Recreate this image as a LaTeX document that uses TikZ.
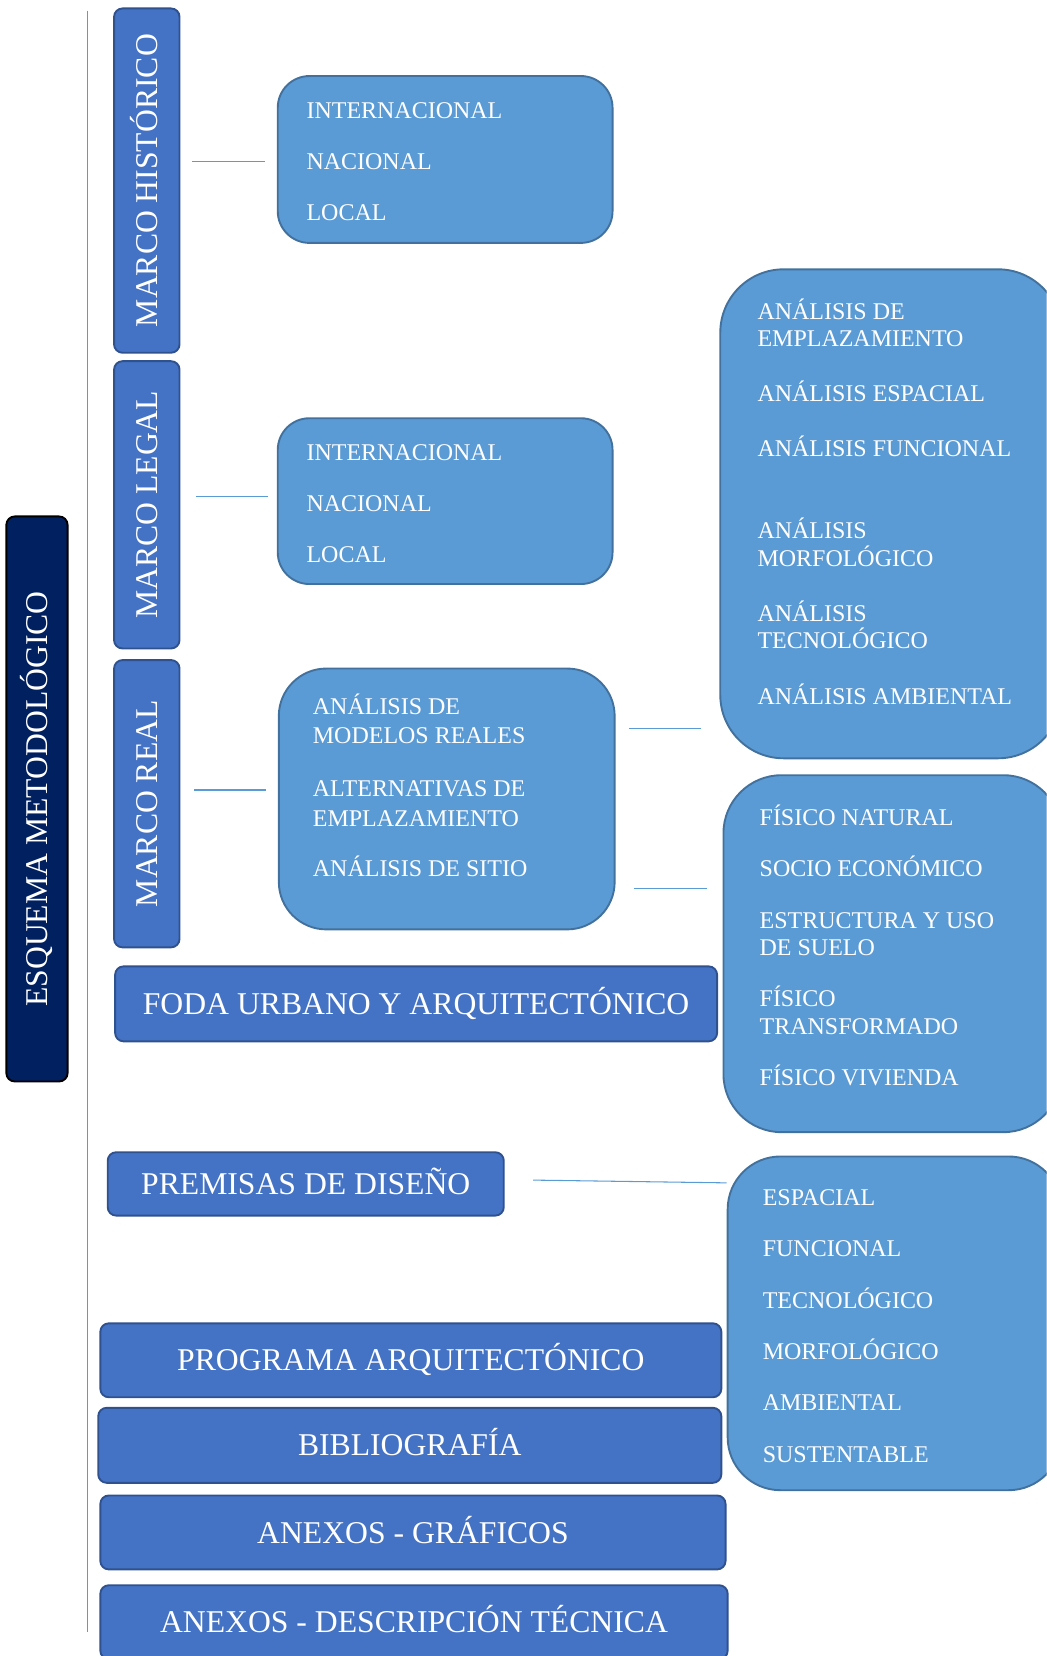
\documentclass[tikz,border=0pt]{standalone}
\usepackage{fontspec}
\setmainfont{Liberation Serif}
\usetikzlibrary{positioning}

\definecolor{navyfill}{HTML}{002060}
\definecolor{midblue}{HTML}{4472C4}
\definecolor{midedge}{HTML}{2F528F}
\definecolor{lightblue}{HTML}{5B9BD5}
\definecolor{lightedge}{HTML}{41719C}

\begin{document}
\begin{tikzpicture}[x=1pt, y=-1pt,
sidebar/.style={rectangle, rounded corners=8pt, draw=midedge, fill=midblue, line width=1.8pt, rotate=90, text=white, inner sep=0pt, text height=20pt, text depth=0pt, font=\fontsize{30}{36}\selectfont},
titlebar/.style={sidebar, draw=black, fill=navyfill},
barnode/.style={rectangle, rounded corners=8pt, draw=midedge, fill=midblue, line width=1.8pt, text=white, inner sep=0pt, text height=20pt, text depth=0pt, font=\fontsize{30}{36}\selectfont},
listbox/.style={rectangle, draw=lightedge, fill=lightblue, line width=1.8pt},
listtext/.style={align=left, text=white, inner sep=0pt, font=\fontsize{22.7}{26}\selectfont},
link/.style={draw=lightblue, line width=1pt},
]
\useasboundingbox (0,0) rectangle (991,1568);
\clip (0,0) rectangle (991,1568);

%Nodes
\node[titlebar, minimum width=535pt, minimum height=58pt] (esquema) at (35,756.5) {ESQUEMA METODOLÓGICO};
\node[sidebar, minimum width=326pt, minimum height=62pt] (hist)  at (139,171) {MARCO HISTÓRICO};
\node[sidebar, minimum width=272pt, minimum height=62pt] (legal) at (139,478) {MARCO LEGAL};
\node[sidebar, minimum width=272pt, minimum height=62pt] (real)  at (139,761) {MARCO REAL};

\node[listbox, rounded corners=30pt, minimum width=317pt, minimum height=158pt] (histlist)  at (421.5,151) {};
\node[listbox, rounded corners=30pt, minimum width=317pt, minimum height=157pt] (legallist) at (421.5,474.5) {};
\node[listbox, rounded corners=45pt, minimum width=318pt, minimum height=247pt] (reallist)  at (423,756.5) {};
\node[listbox, rounded corners=60pt, minimum width=323pt, minimum height=463pt] (analist)   at (843.5,486.5) {};
\node[listbox, rounded corners=55pt, minimum width=320pt, minimum height=338pt] (fislist)   at (845,903) {};
\node[listbox, rounded corners=50pt, minimum width=316pt, minimum height=316pt] (dislist)   at (847,1253) {};

\node[listtext, right=28pt of histlist.west, yshift=-2pt] (histtxt) {INTERNACIONAL\\[22pt]NACIONAL\\[22pt]LOCAL};
\node[listtext, right=28pt of legallist.west, yshift=-2.5pt] (legaltxt) {INTERNACIONAL\\[22pt]NACIONAL\\[22pt]LOCAL};
\node[listtext, right=33pt of reallist.west, yshift=13pt, font=\fontsize{22.7}{28}\selectfont] (realtxt) {ANÁLISIS DE\\MODELOS REALES\\[22pt]ALTERNATIVAS DE\\EMPLAZAMIENTO\\[20pt]ANÁLISIS DE SITIO};
\node[listtext, right=36pt of analist.west, yshift=11.5pt] (anatxt) {ANÁLISIS DE\\EMPLAZAMIENTO\\[26pt]ANÁLISIS ESPACIAL\\[26pt]ANÁLISIS FUNCIONAL\\[52pt]ANÁLISIS\\MORFOLÓGICO\\[26pt]ANÁLISIS\\TECNOLÓGICO\\[27pt]ANÁLISIS AMBIENTAL};
\node[listtext, right=35pt of fislist.west, yshift=7.5pt] (fistxt) {FÍSICO NATURAL\\[22pt]SOCIO ECONÓMICO\\[23pt]ESTRUCTURA Y USO\\DE SUELO\\[22pt]FÍSICO\\TRANSFORMADO\\[23pt]FÍSICO VIVIENDA};
\node[listtext, right=34pt of dislist.west, yshift=-2.5pt] (distxt) {ESPACIAL\\[22.6pt]FUNCIONAL\\[22.6pt]TECNOLÓGICO\\[22.6pt]MORFOLÓGICO\\[22.6pt]AMBIENTAL\\[22.6pt]SUSTENTABLE};

\node[barnode, minimum width=570pt, minimum height=71pt] (foda)   at (394,950.5) {FODA URBANO Y ARQUITECTÓNICO};
\node[barnode, minimum width=375pt, minimum height=60pt] (prem)   at (289.5,1121) {PREMISAS DE DISEÑO};
\node[barnode, minimum width=588pt, minimum height=70pt] (prog)   at (389,1288) {PROGRAMA ARQUITECTÓNICO};
\node[barnode, minimum width=590pt, minimum height=71pt] (biblio) at (388,1368.5) {BIBLIOGRAFÍA};
\node[barnode, minimum width=592pt, minimum height=70pt] (anexg)  at (391,1451) {ANEXOS - GRÁFICOS};
\node[barnode, minimum width=594pt, minimum height=70pt] (anexd)  at (392,1536) {ANEXOS - DESCRIPCIÓN TÉCNICA};

%Lines
\draw[link] (83,10) -- (83,1545);
\draw[link, shorten <=11pt, shorten >=11pt] ([yshift=18pt]hist.south) -- ([yshift=-2pt]histlist.west);
\draw[link, shorten <=15pt, shorten >=8pt] ([yshift=8pt]legal.south) -- ([yshift=4.5pt]legallist.west);
\draw[link, shorten <=13pt, shorten >=11pt] ([yshift=13pt]real.south) -- ([yshift=8.5pt]reallist.west);
\draw[link, shorten <=13pt, shorten >=17pt] ([yshift=66.5pt]reallist.east) -- ([yshift=-203.5pt]analist.west);
\draw[link, shorten <=17pt, shorten >=15pt] ([yshift=-84.5pt]reallist.east) -- ([yshift=62pt]fislist.west);
\draw[link, shorten <=27pt] ([yshift=4pt]prem.east) -- ([yshift=133pt]dislist.west);

\end{tikzpicture}
\end{document}
